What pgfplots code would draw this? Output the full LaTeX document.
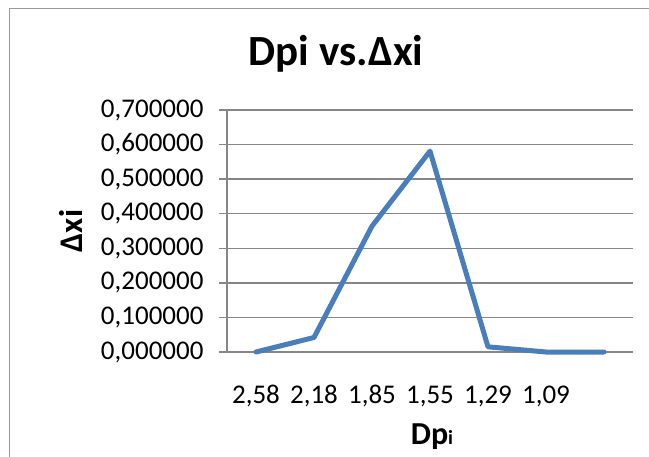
\documentclass[border=0pt]{standalone}
\usepackage{pgfplots}
\pgfplotsset{compat=1.18}
\usepackage{fontspec}
\setmainfont{Carlito}
\definecolor{exblue}{RGB}{74,126,187}
\definecolor{gridgray}{RGB}{134,134,134}
\begin{document}
\begin{tikzpicture}
\useasboundingbox (0pt,0pt) rectangle (649pt,456pt);
\draw[line width=1pt, color=black!40] (9pt,-5pt) -- (9pt,447pt) -- (660pt,447pt);
\begin{axis}[
  at={(227pt,104pt)}, anchor=south west,
  scale only axis, width=406pt, height=242pt,
  xmin=-0.5, xmax=6.5, ymin=0, ymax=0.7,
  xtick={0,1,2,3,4,5,6},
  xticklabels={{2,58},{2,18},{1,85},{1,55},{1,29},{1,09},{}},
  ytick={0,0.1,0.2,0.3,0.4,0.5,0.6,0.7},
  /pgf/number format/assume math mode=true,
  /pgf/number format/fixed, /pgf/number format/fixed zerofill,
  /pgf/number format/precision=6, /pgf/number format/use comma,
  scaled y ticks=false,
  ymajorgrids, grid style={draw=gridgray, line width=1.5pt},
  axis x line*=bottom, axis y line*=left,
  x axis line style={draw=none},
  y axis line style={draw=gridgray, line width=1.5pt},
  tick align=outside,
  major tick length=8pt,
  xtick style={draw=none},
  ytick style={draw=gridgray, line width=1.5pt},
  every tick label/.append style={font=\fontsize{27}{32}\selectfont},
  yticklabel style={anchor=east, xshift=-12pt},
  xticklabel style={anchor=base, yshift=-43pt},
  title={\fontsize{43}{48}\selectfont\bfseries Dpi vs.Δxi},
  title style={at={(axis description cs:0.2685,1.161)}, anchor=base, inner sep=0pt},
  xlabel={\fontsize{32}{36}\selectfont\bfseries Dp{\fontsize{20}{22}\selectfont i}},
  xlabel style={at={(axis description cs:0.505,-0.384)}, anchor=base, inner sep=0pt},
  ylabel={\fontsize{33}{36}\selectfont\bfseries Δxi},
  ylabel style={at={(axis description cs:-0.357,0.5)}, anchor=base, rotate=0, inner sep=0pt},
  clip=false,
]
\addplot[exblue, line width=5pt, line join=round, line cap=round, mark=none] coordinates {
(0,0) (1,0.042) (2,0.364) (3,0.581) (4,0.015) (5,0) (6,0)
};
\end{axis}
\end{tikzpicture}
\end{document}
